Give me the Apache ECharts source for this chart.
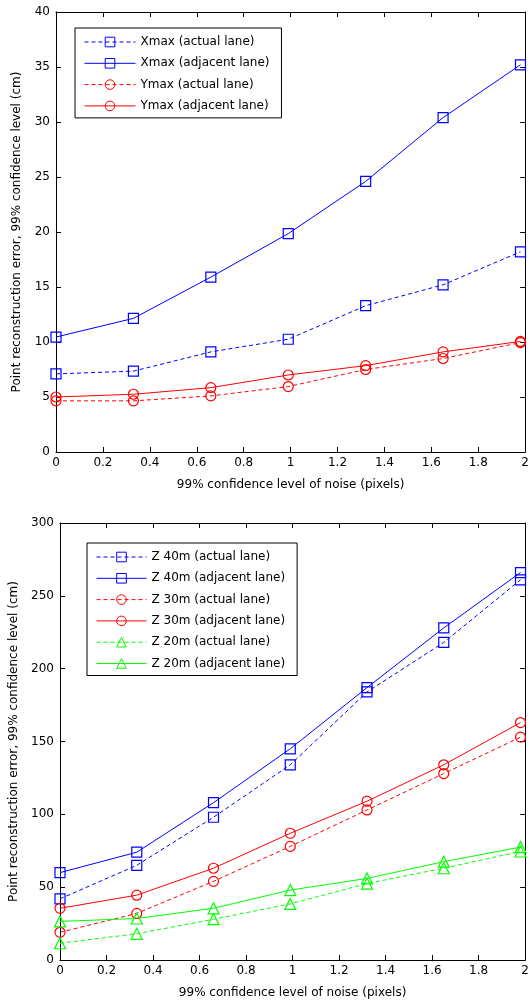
<!DOCTYPE html>
<html><head><meta charset="utf-8">
<script src="https://cdn.jsdelivr.net/npm/echarts@6/dist/echarts.min.js"></script>
<style>html,body{margin:0;padding:0;background:#fff}#c{width:532px;height:1001px}</style>
</head><body><div id="c"></div>
<script>
// ---- data ----
const noise = [0, 0.33, 0.66, 0.99, 1.32, 1.65, 1.98];
const xTickValues = [0, 0.2, 0.4, 0.6, 0.8, 1, 1.2, 1.4, 1.6, 1.8, 2];
const topYTicks = [0, 5, 10, 15, 20, 25, 30, 35, 40];
const bottomYTicks = [0, 50, 100, 150, 200, 250, 300];

const xmaxActual   = [7.1, 7.35, 9.1, 10.25, 13.3, 15.2, 18.2];
const xmaxAdjacent = [10.45, 12.15, 15.9, 19.85, 24.6, 30.4, 35.2];
const ymaxActual   = [4.65, 4.65, 5.1, 5.95, 7.5, 8.5, 9.95];
const ymaxAdjacent = [5.0, 5.25, 5.85, 7.0, 7.85, 9.1, 10.05];

const z40Actual   = [42, 65, 98, 134, 184, 218, 261];
const z40Adjacent = [60, 74, 108, 145, 187, 228, 266];
const z30Actual   = [19, 32, 54, 78, 103, 128, 153];
const z30Adjacent = [35.5, 44.5, 63, 87, 109, 134, 163];
const z20Actual   = [11.5, 18, 28, 38.5, 52.5, 63, 74.5];
const z20Adjacent = [26.5, 28.5, 35.5, 48, 56, 67.5, 77.5];

const xTitle = '99% confidence level of noise (pixels)';
const yTitle = 'Point reconstruction error, 99% confidence level (cm)';

// ---- styling helpers ----
const FONT = 'DejaVu Sans';
const BLUE = '#0000ff', RED = '#ff0000', GREEN = '#00ff00';
const pairs = ys => ys.map((y, i) => [noise[i], y]);
const fmtX = v => String(+(+v).toFixed(1));

function mkSeries(name, ys, color, dashed, symbol, size, xi, yi) {
  return {
    name, type: 'line', data: pairs(ys), xAxisIndex: xi, yAxisIndex: yi,
    symbol, symbolSize: size, showSymbol: true, animation: false,
    lineStyle: { color, width: 1, type: dashed ? [4, 3] : 'solid' },
    itemStyle: { color: 'rgba(0,0,0,0)', borderColor: color, borderWidth: 1.2 },
    emphasis: { disabled: true }, z: 3
  };
}

const xStep = xTickValues[1] - xTickValues[0];
function xAxes(gi) {
  const base = {
    type: 'value', gridIndex: gi, min: xTickValues[0], max: xTickValues[xTickValues.length - 1], interval: xStep,
    axisLine: { show: true, onZero: false, lineStyle: { color: '#000', width: 1 } },
    axisTick: { show: true, inside: true, length: 5, lineStyle: { color: '#000' } },
    splitLine: { show: false }
  };
  return [
    Object.assign({}, base, {
      position: 'bottom',
      axisLabel: { show: true, formatter: fmtX, color: '#000', fontFamily: FONT, fontSize: 12, margin: 5 },
      name: xTitle, nameLocation: 'middle', nameGap: 27,
      nameTextStyle: { color: '#000', fontFamily: FONT, fontSize: 12 }
    }),
    Object.assign({}, base, { position: 'top', axisLabel: { show: false } })
  ];
}
function yAxes(gi, ticks, gap) {
  const base = {
    type: 'value', gridIndex: gi, min: ticks[0], max: ticks[ticks.length - 1], interval: ticks[1] - ticks[0],
    axisLine: { show: true, onZero: false, lineStyle: { color: '#000', width: 1 } },
    axisTick: { show: true, inside: true, length: 5, lineStyle: { color: '#000' } },
    splitLine: { show: false }
  };
  return [
    Object.assign({}, base, {
      position: 'left',
      axisLabel: { show: true, color: '#000', fontFamily: FONT, fontSize: 12, margin: 6 },
      name: yTitle, nameLocation: 'middle', nameGap: gap, nameRotate: 90,
      nameTextStyle: { color: '#000', fontFamily: FONT, fontSize: 12 }
    }),
    Object.assign({}, base, { position: 'right', axisLabel: { show: false } })
  ];
}

function legend(names, left, top, itemWidth) {
  return {
    data: names, orient: 'vertical', left, top,
    itemWidth, itemHeight: 12, itemGap: 9.3,
    padding: [8, 12, 6, 9],
    backgroundColor: '#fff', borderColor: '#000', borderWidth: 1, borderRadius: 0,
    selectedMode: false,
    lineStyle: { width: 1 },
    itemStyle: { borderWidth: 1 },
    textStyle: { color: '#000', fontFamily: FONT, fontSize: 12 },
    z: 10
  };
}

const topNames = ['Xmax (actual lane)', 'Xmax (adjacent lane)', 'Ymax (actual lane)', 'Ymax (adjacent lane)'];
const botNames = ['Z 40m (actual lane)', 'Z 40m (adjacent lane)', 'Z 30m (actual lane)', 'Z 30m (adjacent lane)', 'Z 20m (actual lane)', 'Z 20m (adjacent lane)'];

const option = {
  backgroundColor: '#fff',
  animation: false,
  grid: [
    { left: 56, top: 12, width: 473, height: 440, containLabel: false },
    { left: 60, top: 523, width: 473, height: 437, containLabel: false }
  ],
  xAxis: [].concat(xAxes(0), xAxes(1)),
  yAxis: [].concat(yAxes(0, topYTicks, 33), yAxes(1, bottomYTicks, 40)),
  legend: [legend(topNames, 75, 28, 51), legend(botNames, 87, 543, 50)],
  series: [
    mkSeries(topNames[0], xmaxActual, BLUE, true, 'rect', 10, 0, 0),
    mkSeries(topNames[1], xmaxAdjacent, BLUE, false, 'rect', 10, 0, 0),
    mkSeries(topNames[2], ymaxActual, RED, true, 'circle', 10, 0, 0),
    mkSeries(topNames[3], ymaxAdjacent, RED, false, 'circle', 10, 0, 0),
    mkSeries(botNames[0], z40Actual, BLUE, true, 'rect', 10, 2, 2),
    mkSeries(botNames[1], z40Adjacent, BLUE, false, 'rect', 10, 2, 2),
    mkSeries(botNames[2], z30Actual, RED, true, 'circle', 10, 2, 2),
    mkSeries(botNames[3], z30Adjacent, RED, false, 'circle', 10, 2, 2),
    mkSeries(botNames[4], z20Actual, GREEN, true, 'triangle', 11, 2, 2),
    mkSeries(botNames[5], z20Adjacent, GREEN, false, 'triangle', 11, 2, 2)
  ]
};

const chart = echarts.init(document.getElementById('c'), null, { renderer: 'canvas' });
chart.setOption(option);
</script>
</body></html>
